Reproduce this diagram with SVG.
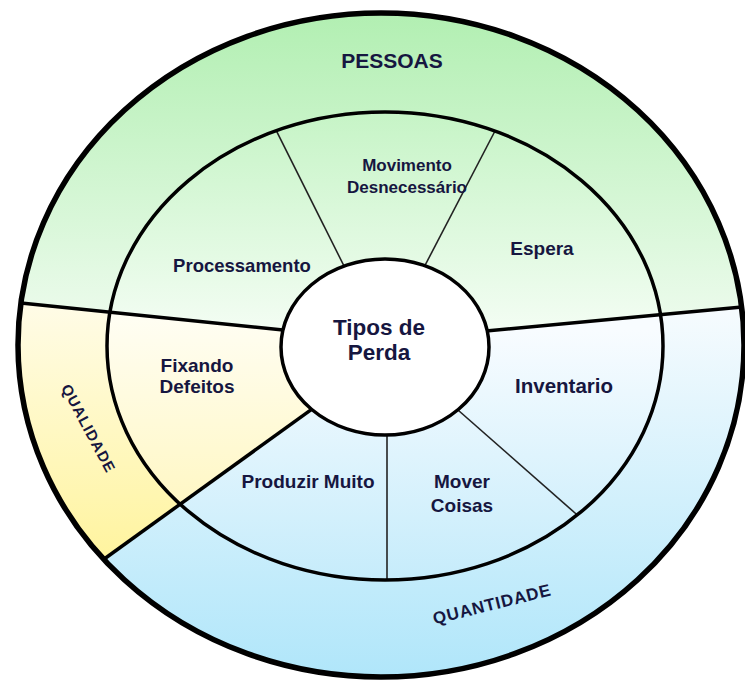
<svg xmlns="http://www.w3.org/2000/svg" width="745" height="681" viewBox="0 0 745 681">
  <style>
    .lbl { font-family: "Liberation Sans", Arial, sans-serif; font-weight: bold; fill: #161640; text-anchor: middle; }
    .ring { fill: none; stroke: #000; }
    .thick { stroke: #000; stroke-width: 3.5; fill: none; }
    .thin { stroke: #222; stroke-width: 1.6; fill: none; }
  </style>
  <defs>
    <linearGradient id="gGreenOuter" gradientUnits="userSpaceOnUse" x1="0" y1="14" x2="0" y2="320">
      <stop offset="0" stop-color="#b2efb2"/>
      <stop offset="1" stop-color="#ecfbec"/>
    </linearGradient>
    <linearGradient id="gGreenInner" gradientUnits="userSpaceOnUse" x1="0" y1="112" x2="0" y2="330">
      <stop offset="0" stop-color="#c6f4c6"/>
      <stop offset="1" stop-color="#f3fdf3"/>
    </linearGradient>
    <linearGradient id="gYellowOuter" gradientUnits="userSpaceOnUse" x1="0" y1="300" x2="0" y2="560">
      <stop offset="0" stop-color="#fffce8"/>
      <stop offset="1" stop-color="#fff49e"/>
    </linearGradient>
    <linearGradient id="gYellowInner" gradientUnits="userSpaceOnUse" x1="0" y1="312" x2="0" y2="505">
      <stop offset="0" stop-color="#fffef4"/>
      <stop offset="1" stop-color="#fff7c4"/>
    </linearGradient>
    <linearGradient id="gBlueOuter" gradientUnits="userSpaceOnUse" x1="0" y1="310" x2="0" y2="677">
      <stop offset="0" stop-color="#f6fbfe"/>
      <stop offset="1" stop-color="#b0e6fa"/>
    </linearGradient>
    <linearGradient id="gBlueInner" gradientUnits="userSpaceOnUse" x1="0" y1="330" x2="0" y2="580">
      <stop offset="0" stop-color="#f8fcff"/>
      <stop offset="1" stop-color="#c6ecfb"/>
    </linearGradient>
    <clipPath id="clipTop">
      <polygon points="0,0 745,0 745,306.7 487,331 283,330 0,300.8"/>
    </clipPath>
    <clipPath id="clipLeft">
      <polygon points="0,300.8 283,330 311.6,409.4 0,634.2"/>
    </clipPath>
    <clipPath id="clipBottom">
      <polygon points="745,306.7 487,331 311.6,409.4 0,634.2 0,681 745,681"/>
    </clipPath>
  </defs>

  <g id="regions">
    <g id="pessoas-region" clip-path="url(#clipTop)">
      <ellipse cx="381" cy="345" rx="363" ry="332" fill="url(#gGreenOuter)"/>
      <ellipse cx="385" cy="346" rx="278" ry="234" fill="url(#gGreenInner)"/>
    </g>
    <g id="qualidade-region" clip-path="url(#clipLeft)">
      <ellipse cx="381" cy="345" rx="363" ry="332" fill="url(#gYellowOuter)"/>
      <ellipse cx="385" cy="346" rx="278" ry="234" fill="url(#gYellowInner)"/>
    </g>
    <g id="quantidade-region" clip-path="url(#clipBottom)">
      <ellipse cx="381" cy="345" rx="363" ry="332" fill="url(#gBlueOuter)"/>
      <ellipse cx="385" cy="346" rx="278" ry="234" fill="url(#gBlueInner)"/>
    </g>
  </g>

  <g id="connectors">
    <line class="thick" x1="21" y1="303" x2="300" y2="331.8"/>
    <line class="thick" x1="742" y1="307" x2="470" y2="332.6"/>
    <line class="thick" x1="103.5" y1="559.5" x2="332.4" y2="394.4"/>
    <line class="thin" x1="276.3" y1="130.7" x2="350" y2="278"/>
    <line class="thin" x1="495" y1="131" x2="420" y2="275"/>
    <line class="thin" x1="577.3" y1="515" x2="450" y2="403"/>
    <line class="thin" x1="387" y1="580" x2="387" y2="420"/>
  </g>

  <g id="rings">
    <ellipse class="ring" cx="381" cy="345" rx="363" ry="332" stroke-width="5.5"/>
    <ellipse class="ring" cx="385" cy="346" rx="278" ry="234" stroke-width="3.5"/>
  </g>

  <g id="pessoas">
    <text class="lbl" x="392" y="68" font-size="21">PESSOAS</text>
  </g>
  <g id="qualidade">
    <text class="lbl" font-size="15" letter-spacing="1" transform="translate(88.5,428.5) rotate(62)" x="0" y="5.3">QUALIDADE</text>
  </g>
  <g id="quantidade">
    <text class="lbl" font-size="17" letter-spacing="0.8" transform="translate(492,604) rotate(-14)" x="0" y="6">QUANTIDADE</text>
  </g>
  <g id="processamento">
    <text class="lbl" x="242" y="272" font-size="18.5">Processamento</text>
  </g>
  <g id="movimento">
    <text class="lbl" x="407" y="171" font-size="17">Movimento</text>
    <text class="lbl" x="407" y="193" font-size="17">Desnecessário</text>
  </g>
  <g id="espera">
    <text class="lbl" x="542" y="255" font-size="19">Espera</text>
  </g>
  <g id="inventario">
    <text class="lbl" x="564" y="393" font-size="20.5">Inventario</text>
  </g>
  <g id="mover-coisas">
    <text class="lbl" x="462" y="488" font-size="19">Mover</text>
    <text class="lbl" x="462" y="512" font-size="19">Coisas</text>
  </g>
  <g id="produzir-muito">
    <text class="lbl" x="308" y="488" font-size="19">Produzir Muito</text>
  </g>
  <g id="fixando-defeitos">
    <text class="lbl" x="197" y="372" font-size="19">Fixando</text>
    <text class="lbl" x="197" y="393" font-size="19">Defeitos</text>
  </g>
  <g id="tipos-de-perda">
    <ellipse cx="385" cy="347" rx="104" ry="88" fill="#ffffff" stroke="#000" stroke-width="3.5"/>
    <text class="lbl" x="379" y="335" font-size="22.5">Tipos de</text>
    <text class="lbl" x="379" y="360" font-size="22.5">Perda</text>
  </g>
</svg>
